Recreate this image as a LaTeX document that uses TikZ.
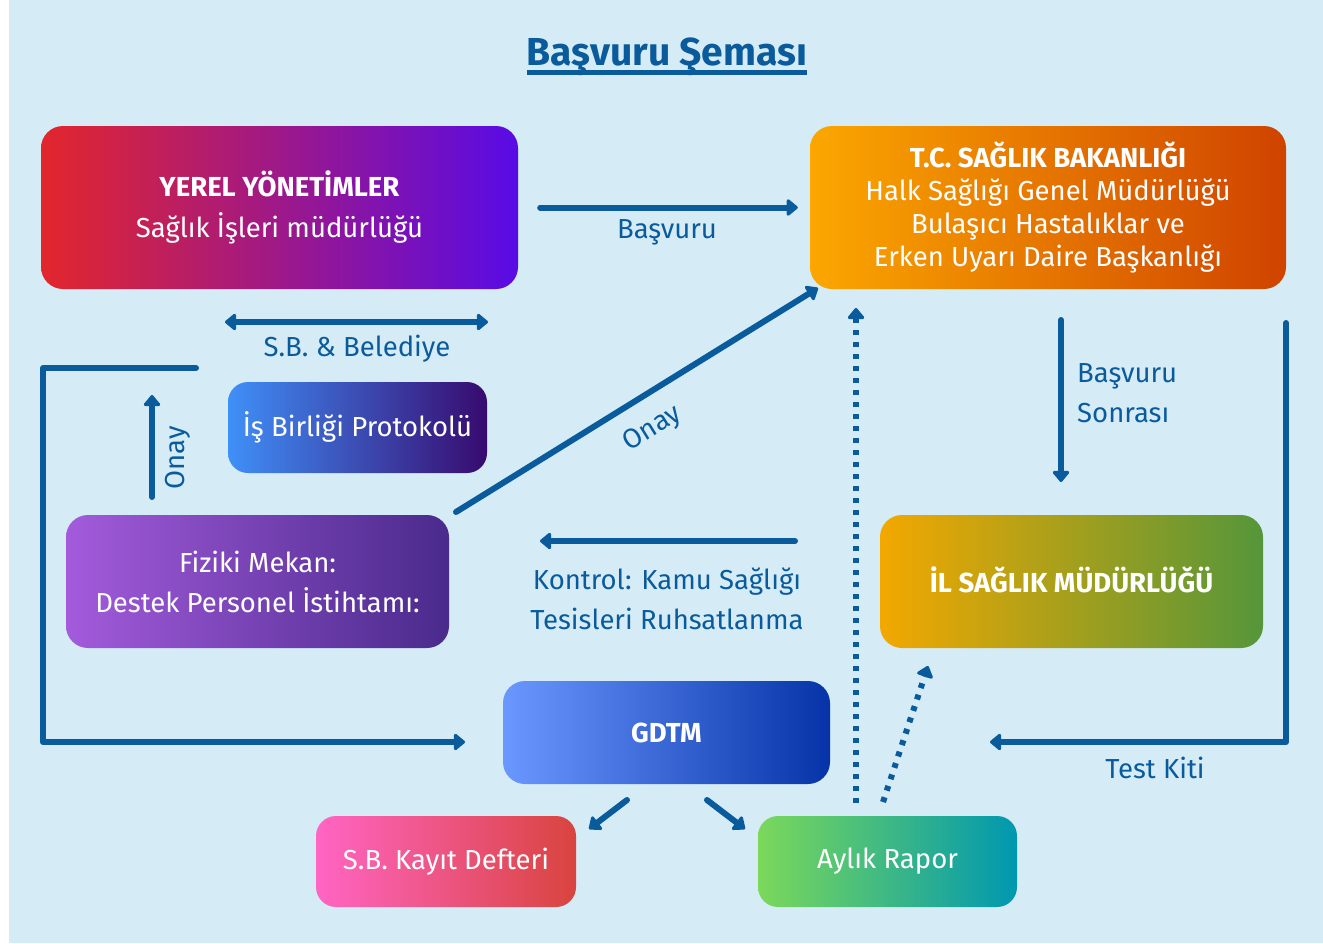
\documentclass[tikz,border=0pt]{standalone}
\usepackage{fontspec}
\setmainfont{Fira Sans}
\usetikzlibrary{arrows.meta}
\definecolor{bg}{HTML}{D5ECF7}
\definecolor{ink}{HTML}{0A5B9C}
\definecolor{yA}{HTML}{E3262C}\definecolor{yB}{HTML}{580BE6}
\definecolor{tA}{HTML}{FBA700}\definecolor{tB}{HTML}{CF4300}
\definecolor{iA}{HTML}{3F90F8}\definecolor{iB}{HTML}{380A6E}
\definecolor{fA}{HTML}{A35BDB}\definecolor{fB}{HTML}{4A2A8C}
\definecolor{lA}{HTML}{F3A800}\definecolor{lB}{HTML}{55963A}
\definecolor{gA}{HTML}{6B98FF}\definecolor{gB}{HTML}{0634A8}
\definecolor{kA}{HTML}{FF65C3}\definecolor{kB}{HTML}{D9443F}
\definecolor{aA}{HTML}{7BD85A}\definecolor{aB}{HTML}{0098B0}
\tikzset{
  box/.style={rounded corners=22pt, text=white, align=center, inner sep=0pt,
    font=\fontsize{27.5}{33}\selectfont},
  lbl/.style={text=ink, align=center, inner sep=0pt, font=\fontsize{27.5}{40}\selectfont},
  conn/.style={draw=ink, line width=6pt, line cap=round, line join=round,
    -{Triangle[round, length=12pt, width=19pt]}},
  dconn/.style={conn, line cap=butt, dash pattern=on 5pt off 7pt},
}
\begin{document}
\begin{tikzpicture}[x=1pt,y=-1pt]
\useasboundingbox (0,0) rectangle (1323,943);
\fill[white] (0,0) rectangle (1323,943);
\fill[bg] (9,0) rectangle (1323,943);

% title
\node[text=ink, inner sep=0pt, font=\fontsize{39}{44}\selectfont\bfseries] (title) at (667,57) {Başvuru Şeması};
\draw[ink, line width=5pt] ([yshift=-7pt]title.base west) -- ([yshift=-7pt]title.base east);

% boxes
\node[box, left color=yA, right color=yB, minimum width=477pt, minimum height=163pt] (yerel) at (279.5,207.5)
  {\textbf{YEREL YÖNETİMLER}\\[8pt]Sağlık İşleri müdürlüğü};
\node[box, left color=tA, right color=tB, minimum width=476pt, minimum height=163pt] (tc) at (1048,207.5)
  {\textbf{T.C. SAĞLIK BAKANLIĞI}\\Halk Sağlığı Genel Müdürlüğü\\Bulaşıcı Hastalıklar ve\\Erken Uyarı Daire Başkanlığı};
\node[box, rounded corners=20pt, left color=iA, right color=iB, minimum width=259pt, minimum height=91pt] (isb) at (357.5,427.5)
  {İş Birliği Protokolü};
\node[box, left color=fA, right color=fB, minimum width=383pt, minimum height=133pt] (fiz) at (257.5,581.5)
  {\raisebox{3pt}{\parbox{383pt}{\centering Fiziki Mekan:\\[7pt]Destek Personel İstihtamı:}}};
\node[box, left color=lA, right color=lB, minimum width=383pt, minimum height=133pt] (il) at (1071.5,581.5)
  {\raisebox{4pt}{\textbf{İL SAĞLIK MÜDÜRLÜĞÜ}}};
\node[box, left color=gA, right color=gB, minimum width=327pt, minimum height=103pt] (gdtm) at (666.5,732.5)
  {\textbf{GDTM}};
\node[box, rounded corners=20pt, left color=kA, right color=kB, minimum width=260pt, minimum height=91pt] (kayit) at (446,861.5)
  {S.B. Kayıt Defteri};
\node[box, rounded corners=20pt, left color=aA, right color=aB, minimum width=259pt, minimum height=91pt] (aylik) at (887.5,861.5)
  {Aylık Rapor};

% coordinates
\coordinate (sbL) at (225,322); \coordinate (sbR) at (488,322);
\coordinate (lA) at (196,368); \coordinate (lB) at (43,368); \coordinate (lC) at (43,742); \coordinate (lD) at (465,742);
\coordinate (onS) at (152,497); \coordinate (onE) at (152,395);
\coordinate (dgS) at (456,512); \coordinate (dgE) at (818,288);
\coordinate (koS) at (795,541); \coordinate (koE) at (540,541);
\coordinate (bsS) at (1061,320); \coordinate (bsE) at (1061,482);
\coordinate (tkA) at (1286,323); \coordinate (tkB) at (1286,742); \coordinate (tkC) at (990,742);
\coordinate (vdS) at (856,803); \coordinate (vdE) at (856,308);
\coordinate (ddS) at (883,802); \coordinate (ddE) at (928,666);
\coordinate (g1S) at (627,800); \coordinate (g1E) at (589,829);
\coordinate (g2S) at (707,800); \coordinate (g2E) at (745,829);

% connectors
\draw[conn] ([xshift=22pt]yerel.east) -- ([xshift=-12pt]tc.west);
\node[lbl] (lbBas) at (667,232) {Başvuru};
\draw[conn, {Triangle[round, length=12pt, width=19pt]}-{Triangle[round, length=12pt, width=19pt]}] (sbL) -- (sbR);
\node[lbl] (lbSB) at (357,349) {S.B. \& Belediye};
\draw[conn] (lA) -- (lB) -- (lC) -- (lD);
\draw[conn] (onS) -- (onE);
\node[lbl, rotate=90] (lbOn1) at (178,458) {Onay};
\draw[conn] (dgS) -- (dgE);
\node[lbl, rotate=31.7] (lbOn2) at (653,429) {Onay};
\draw[conn] (koS) -- (koE);
\node[lbl] (lbKo) at (667,599) {Kontrol: Kamu Sağlığı\\Tesisleri Ruhsatlanma};
\draw[conn] (bsS) -- (bsE);
\node[lbl, anchor=west, align=left] (lbBS) at (1077,393) {Başvuru\\Sonrası};
\draw[conn] (tkA) -- (tkB) -- (tkC);
\node[lbl] (lbTK) at (1155,768) {Test Kiti};
\draw[dconn] (vdS) -- (vdE);
\draw[dconn] (ddS) -- (ddE);
\draw[conn] (g1S) -- (g1E);
\draw[conn] (g2S) -- (g2E);
\end{tikzpicture}
\end{document}
